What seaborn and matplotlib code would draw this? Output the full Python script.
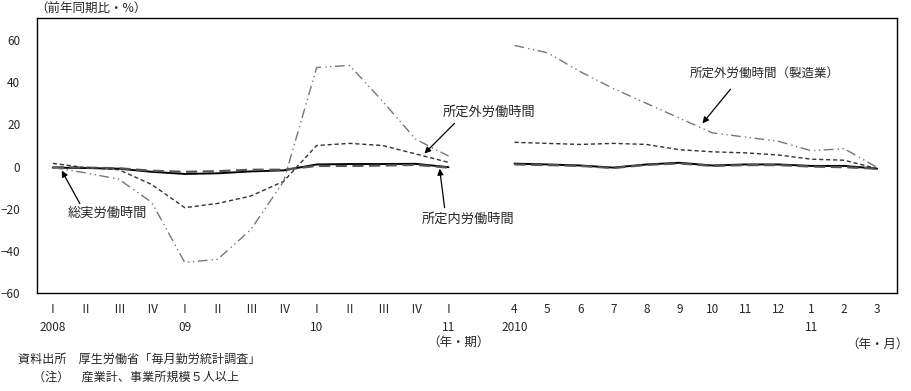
import numpy as np
import pandas as pd
import matplotlib
matplotlib.use('Agg')
import matplotlib.pyplot as plt
import seaborn as sns

# 四半期（2008 I ～ 2011 I）
quarter_labels = ['Ⅰ\n2008', 'Ⅱ\n', 'Ⅲ\n', 'Ⅳ\n',
                  'Ⅰ\n09', 'Ⅱ\n', 'Ⅲ\n', 'Ⅳ\n',
                  'Ⅰ\n10', 'Ⅱ\n', 'Ⅲ\n', 'Ⅳ\n',
                  'Ⅰ\n11']
total_q = [-0.5, -0.7, -1.0, -2.5, -3.5, -3.2, -2.3, -1.8, 1.0, 1.2, 1.2, 1.3, -0.3]
sched_q = [-0.3, -0.5, -0.8, -2.0, -2.5, -2.2, -1.5, -1.5, 0.3, 0.3, 0.5, 0.8, -0.5]
overtime_q = [1.5, -0.5, -1.5, -8.5, -19.5, -17.5, -14.0, -7.0, 10.0, 11.0, 10.0, 6.0, 2.0]
manuf_q = [-0.5, -3.0, -6.0, -17.0, -45.5, -44.0, -30.0, -7.0, 47.0, 48.0, 31.0, 13.0, 5.0]

# 月次（2010年4月 ～ 2011年3月）
month_labels = ['4\n2010', '5\n', '6\n', '7\n', '8\n', '9\n', '10\n', '11\n', '12\n',
                '1\n11', '2\n', '3\n']
total_m = [1.4, 1.0, 0.5, -0.5, 1.0, 1.8, 0.5, 1.0, 1.0, 0.3, 0.3, -1.0]
sched_m = [1.0, 0.7, 0.3, -0.7, 0.8, 1.5, 0.3, 0.7, 0.7, 0.0, -0.3, -1.0]
overtime_m = [11.5, 11.0, 10.5, 11.0, 10.5, 8.0, 7.0, 6.5, 5.5, 3.5, 3.0, -1.0]
manuf_m = [57.5, 54.0, 45.0, 37.0, 30.0, 23.0, 16.0, 14.0, 12.0, 7.5, 8.5, -0.5]

x_q = np.arange(len(quarter_labels))
x_m = np.arange(len(month_labels)) + len(quarter_labels) + 1

sns.set_style('white')
plt.rcParams['font.family'] = ['Noto Sans CJK JP', 'DejaVu Sans']

fig = plt.figure(figsize=(9.12, 3.91), dpi=100)
ax = fig.add_axes([37 / 912, 1 - 293 / 391, 860 / 912, 275 / 391])

estilos = [
    (total_q, total_m, dict(color='black', linewidth=1.4)),
    (sched_q, sched_m, dict(color='#555555', linewidth=1.6, dashes=(5, 2.5))),
    (overtime_q, overtime_m, dict(color='#333333', linewidth=1.0, dashes=(3, 2))),
    (manuf_q, manuf_m, dict(color='#777777', linewidth=1.0, dashes=(7, 3, 1, 2.5, 1, 2.5))),
]
for serie_q, serie_m, kw in estilos:
    dashes = kw.pop('dashes', None)
    for xs, ys in ((x_q, serie_q), (x_m, serie_m)):
        linha = sns.lineplot(x=xs, y=ys, ax=ax, **kw)
        if dashes is not None:
            linha.lines[-1].set_dashes(dashes)

ax.set_xlim(-0.48, 25.6)
ax.set_ylim(-60, 70.5)
ax.set_yticks(range(-60, 61, 20))
ax.set_xticks(np.concatenate([x_q, x_m]))
ax.set_xticklabels(quarter_labels + month_labels, fontsize=8.5, linespacing=1.5)
ax.tick_params(axis='x', length=0, pad=7)
ax.tick_params(axis='y', length=0, pad=12, labelsize=8.5)
for lbl in ax.get_yticklabels():
    lbl.set_horizontalalignment('right')
for sp in ax.spines.values():
    sp.set_color('black')
    sp.set_linewidth(1.0)
ax.grid(False)

# Anotações
seta = dict(arrowstyle='-|>', color='black', lw=0.9, mutation_scale=9, shrinkA=0, shrinkB=0)
ax.annotate('', xy=(11.27, 6.2), xytext=(12.18, 20.5), arrowprops=seta)
ax.text(11.82, 25.7, '所定外労働時間', fontsize=9.5, va='center', ha='left')
ax.annotate('', xy=(19.7, 20.5), xytext=(20.55, 36.7), arrowprops=seta)
ax.text(19.3, 44.3, '所定外労働時間（製造業）', fontsize=9, va='center', ha='left')
ax.annotate('', xy=(0.27, -1.9), xytext=(0.82, -17.6), arrowprops=seta)
ax.text(0.45, -21.9, '総実労働時間', fontsize=9.5, va='center', ha='left')
ax.annotate('', xy=(11.73, -1.0), xytext=(11.88, -19.5), arrowprops=seta)
ax.text(11.18, -24.8, '所定内労働時間', fontsize=9.5, va='center', ha='left')

def px(x, y):
    return x / 912, 1 - y / 391

fig.text(*px(35, 9), '（前年同期比・%）', fontsize=9, va='center', ha='left')
fig.text(*px(427, 342), '（年・期）', fontsize=9, va='center', ha='left')
fig.text(*px(909, 344), '（年・月）', fontsize=9, va='center', ha='right')
fig.text(*px(18, 359), '資料出所　厚生労働省「毎月勤労統計調査」', fontsize=8.7, va='center', ha='left')
fig.text(*px(33, 377), '（注）　産業計、事業所規模５人以上', fontsize=8.7, va='center', ha='left')

plt.savefig('out.png', dpi=100)
